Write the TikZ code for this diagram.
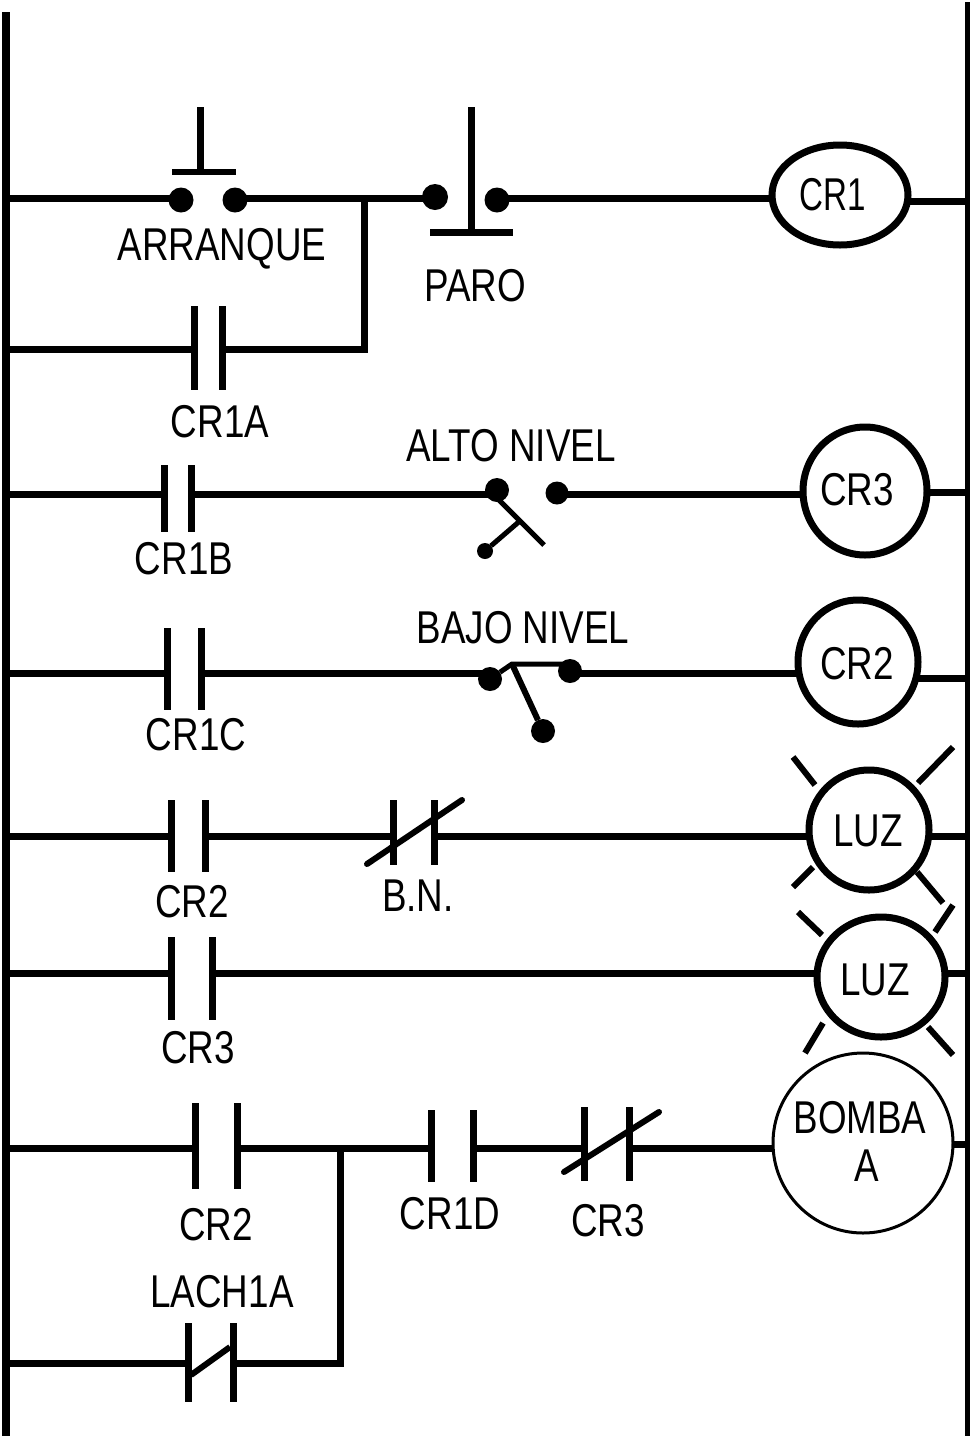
\documentclass[tikz,border=0pt]{standalone}
\usepackage{fontspec}
\setmainfont[FakeStretch=0.8]{Liberation Sans}
\usetikzlibrary{shapes.geometric,calc}
\tikzset{
  wire/.style={line width=7pt,line cap=butt,line join=miter},
  fine/.style={line width=5pt,line cap=butt},
  ray/.style={line width=6pt,line cap=butt},
  rail/.style={line width=8pt},
  plate/.style={rectangle,fill=black,draw=none,minimum width=7pt,inner sep=0pt,outer sep=0pt},
  stud/.style={circle,fill=black,draw=none,inner sep=0pt,outer sep=0pt},
  coil/.style={ellipse,draw=black,line width=7pt,inner sep=0pt,fill=white},
  lbl/.style={inner sep=0pt,font=\fontsize{46}{46}\selectfont},
}
\newcommand{\plateat}[4]{\node[plate,minimum height={(#4-#3)*1pt}] (#1) at (#2,{(#3+#4)/2}) {};}
\newcommand{\studat}[4]{\node[stud,minimum size=#4pt] (#1) at (#2,#3) {};}
\begin{document}
\begin{tikzpicture}[x=1pt,y=-1pt]
\useasboundingbox (0,0) rectangle (970,1436);
% rails
\coordinate (LT) at (6,12); \coordinate (LB) at (6,1436);
\coordinate (RT) at (967.5,2); \coordinate (RB) at (967.5,1436);
\draw[rail] (LT) -- (LB);
\draw[line width=5pt] (RT) -- (RB);
% row anchors
\coordinate (L1) at (6,198);  \coordinate (L1b) at (6,349);
\coordinate (L2) at (6,494);  \coordinate (L3) at (6,673);
\coordinate (L4) at (6,836);  \coordinate (L5) at (6,973);
\coordinate (L6) at (6,1148); \coordinate (L6b) at (6,1363);
\coordinate (R1) at (967,201); \coordinate (R2) at (967,492);
\coordinate (R3) at (967,678); \coordinate (R4) at (967,836);
\coordinate (R5) at (967,973); \coordinate (R6) at (967,1144);
% coils
\node[coil,minimum width=136pt,minimum height=100pt] (c1) at (840,195) {};
\node[lbl] (c1t) at (833,195) {\scalebox{.9}[1]{CR1}};
\node[coil,minimum width=124pt,minimum height=128pt] (c3) at (865,491) {};
\node[lbl] (c3t) at (857,490) {CR3};
\node[coil,minimum width=120pt,minimum height=124pt] (c2) at (858,662) {};
\node[lbl] (c2t) at (857,664) {CR2};
\node[coil,minimum width=120pt,minimum height=120pt] (l1) at (869,830) {};
\node[lbl] (l1t) at (868,831) {LUZ};
\node[coil,minimum width=128pt,minimum height=120pt] (l2) at (881,977) {};
\node[lbl] (l2t) at (875,980) {LUZ};
\node[coil,line width=3pt,minimum width=180pt,minimum height=180pt] (bm) at (863,1143) {};
\node[lbl] (bmt) at (860,1118) {BOMBA};
\node[lbl] (bma) at (867,1166) {A};
% row 1
\studat{d1a}{181}{200}{25}
\studat{d1b}{235}{200}{25}
\studat{d1c}{435}{197}{26}
\studat{d1d}{497}{200}{25}
\coordinate (j1) at (364,198);
\coordinate (j1b) at (364,349);
\coordinate (k1) at (200,107); \coordinate (k1b) at (200,172);
\coordinate (b1a) at (172,172); \coordinate (b1b) at (236,172);
\coordinate (k2) at (471,107); \coordinate (k2b) at (471,232);
\coordinate (b2a) at (430,232); \coordinate (b2b) at (513,232);
\draw[wire] (L1) -- (L1 -| d1a);
\draw[wire] (L1 -| d1b) -- (L1 -| d1c);
\draw[wire] (L1 -| d1d) -- ($(L1 -| c1.west)+(4,0)$);
\draw[wire] ($(c1.east |- R1)+(-5,0)$) -- (R1);
\draw[wire] (k1) -- (k1b);
\draw[wire,line width=6pt] (b1a) -- (b1b);
\draw[wire] (k2) -- (k2b);
\draw[wire] (b2a) -- (b2b);
\plateat{p1a}{194}{306}{390}
\plateat{p1b}{222}{306}{390}
\draw[wire] (L1b) -- (L1b -| p1a);
\draw[wire] (L1b -| p1b) -- (j1b) -- (j1);
\node[lbl] (t1) at (222,249) {ARRANQUE};
\node[lbl] (t2) at (475,286) {PARO};
\node[lbl] (t3) at (220,422) {CR1A};
% row 2
\plateat{p2a}{164}{465}{532}
\plateat{p2b}{191}{465}{532}
\studat{d2a}{497}{490}{24}
\studat{d2b}{557}{493}{23}
\studat{d2c}{485}{551}{16}
\coordinate (s2c) at (497,498);
\coordinate (s2a) at (544,545);
\coordinate (s2b) at (521,520);
\draw[wire] (L2) -- (L2 -| p2a);
\draw[wire] (L2 -| p2b) -- (L2 -| d2a);
\draw[wire] (L2 -| d2b) -- ($(L2 -| c3.west)+(4,0)$);
\draw[wire] ($(c3.east |- R2)+(-5,0)$) -- (R2);
\draw[fine] (s2c) -- (s2a);
\draw[fine] (s2b) -- (d2c);
\node[lbl] (t4) at (511,446) {ALTO NIVEL};
\node[lbl] (t5) at (184,559) {CR1B};
% row 3
\plateat{p3a}{167}{628}{710}
\plateat{p3b}{201}{628}{710}
\studat{d3a}{490}{679}{24}
\studat{d3b}{570}{671}{24}
\studat{d3c}{543}{731}{24}
\coordinate (s3a) at (512,664);
\coordinate (s3b) at (570,664);
\draw[wire] (L3) -- (L3 -| p3a);
\draw[wire] (L3 -| p3b) -- (L3 -| d3a);
\draw[wire] (L3 -| d3b) -- ($(L3 -| c2.west)+(4,0)$);
\draw[wire] ($(c2.east |- R3)+(-6,0)$) -- (R3);
\draw[fine] (d3a) -- (s3a) -- (s3b);
\draw[ray] (s3a) -- (d3c);
\node[lbl] (t6) at (523,628) {BAJO NIVEL};
\node[lbl] (t7) at (196,735) {CR1C};
% row 4
\plateat{p4a}{171}{800}{872}
\plateat{p4b}{205}{800}{872}
\plateat{p4c}{393}{800}{865}
\plateat{p4d}{434}{800}{865}
\coordinate (s4a) at (367,864); \coordinate (s4b) at (462,800);
\draw[wire] (L4) -- (L4 -| p4a);
\draw[wire] (L4 -| p4b) -- (L4 -| p4c);
\draw[wire] (L4 -| p4d) -- ($(L4 -| l1.west)+(4,0)$);
\draw[wire] ($(l1.east |- R4)+(-5,0)$) -- (R4);
\draw[ray,line cap=round] (s4a) -- (s4b);
\node[lbl] (t8) at (192,902) {CR2};
\node[lbl] (t9) at (418,896) {B.N.};
% rays of first lamp
\coordinate (r1a) at (793,757); \coordinate (r1b) at (815,785);
\coordinate (r2a) at (953,747); \coordinate (r2b) at (918,783);
\coordinate (r3a) at (793,887); \coordinate (r3b) at (813,867);
\coordinate (r4a) at (943,903); \coordinate (r4b) at (917,872);
\draw[ray] (r1a) -- (r1b);
\draw[ray] (r2a) -- (r2b);
\draw[ray] (r3a) -- (r3b);
\draw[ray] (r4a) -- (r4b);
% row 5
\plateat{p5a}{171}{937}{1020}
\plateat{p5b}{212}{937}{1020}
\draw[wire] (L5) -- (L5 -| p5a);
\draw[wire] (L5 -| p5b) -- ($(L5 -| l2.west)+(4,0)$);
\draw[wire] ($(l2.east |- R5)+(-5,0)$) -- (R5);
\node[lbl] (t10) at (198,1048) {CR3};
% rays of second lamp
\coordinate (q1a) at (798,912); \coordinate (q1b) at (822,935);
\coordinate (q2a) at (953,905); \coordinate (q2b) at (935,932);
\coordinate (q3a) at (805,1053); \coordinate (q3b) at (823,1023);
\coordinate (q4a) at (953,1055); \coordinate (q4b) at (928,1027);
\draw[ray] (q1a) -- (q1b);
\draw[ray] (q2a) -- (q2b);
\draw[ray] (q3a) -- (q3b);
\draw[ray] (q4a) -- (q4b);
% row 6
\plateat{p6a}{195}{1103}{1189}
\plateat{p6b}{237}{1103}{1189}
\plateat{p6c}{431}{1110}{1182}
\plateat{p6d}{473}{1110}{1182}
\plateat{p6e}{584}{1107}{1181}
\plateat{p6f}{629}{1107}{1181}
\plateat{p6g}{188}{1323}{1402}
\plateat{p6h}{233}{1323}{1402}
\coordinate (j6) at (340,1148); \coordinate (j6b) at (340,1363);
\coordinate (s6a) at (564,1172); \coordinate (s6b) at (659,1112);
\coordinate (s6c) at (191,1375); \coordinate (s6d) at (230,1347);
\draw[wire] (L6) -- (L6 -| p6a);
\draw[wire] (L6 -| p6b) -- (L6 -| p6c);
\draw[wire] (L6 -| p6d) -- (L6 -| p6e);
\draw[wire] (L6 -| p6f) -- (L6 -| bm.west);
\draw[wire] ($(bm.east |- R6)+(-2,0)$) -- (R6);
\draw[wire] (L6b) -- (L6b -| p6g);
\draw[wire] (L6b -| p6h) -- (j6b) -- (j6);
\draw[ray,line cap=round] (s6a) -- (s6b);
\draw[ray] (s6c) -- (s6d);
\node[lbl] (t11) at (216,1225) {CR2};
\node[lbl] (t12) at (450,1214) {CR1D};
\node[lbl] (t13) at (608,1221) {CR3};
\node[lbl] (t14) at (222,1292) {LACH1A};
\end{tikzpicture}
\end{document}
